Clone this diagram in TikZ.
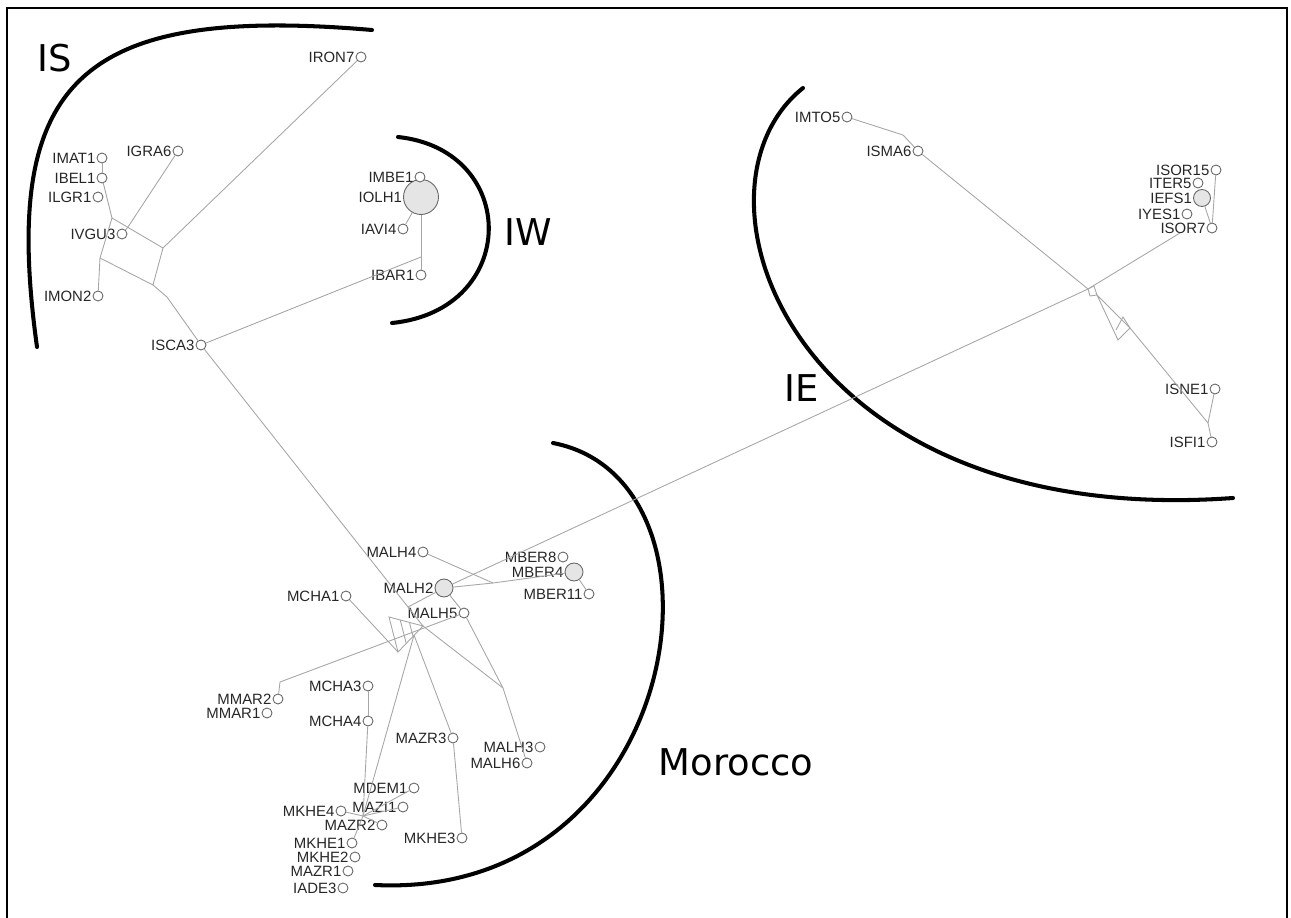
\documentclass[tikz,border=0pt]{standalone}
\usepackage{fontspec}
\setmainfont{Liberation Sans}
\newfontfamily\groupfont{DejaVu Sans}
\usetikzlibrary{positioning, calc}

\begin{document}
\begin{tikzpicture}[x=0.02cm, y=-0.02cm,
    hap/.style={circle, draw=black!60, fill=white, line width=0.5pt, minimum size=0.2cm, inner sep=0pt, label distance=1pt},
    bighap/.style={hap, fill=black!10},
    link/.style={draw=black!35, line width=0.5pt},
    group/.style={line width=2.3pt, line cap=round},
    grp/.style={font=\groupfont\fontsize{21}{21}\selectfont},
    every label/.style={font=\fontsize{8.5}{8.5}\selectfont, text=black!85, inner sep=0.5pt}]
    \useasboundingbox (0,0) rectangle (1291,918);
    % Frame (open at the bottom)
    \draw[line width=1.2pt] (7,918) -- (7,8) -- (1287,8) -- (1287,918);

    % Group arcs
    \draw[group] (37,347) .. controls (0,80) and (80,5) .. (372,30);
    \draw[group] (398,137) .. controls (520,150) and (520,310) .. (392,323);
    \draw[group] (803,88) .. controls (675,190) and (790,530) .. (1233,498);
    \draw[group] (553,443) .. controls (745,480) and (685,900) .. (375,885);

    % Group names
    \node[grp] (nIS) at (55,58) {IS};
    \node[grp] (nIW) at (528,232) {IW};
    \node[grp] (nIE) at (802,388) {IE};
    \node[grp] (nMor) at (736,762) {Morocco};

    % IS haplotypes
    \node[hap, label=left:IRON7] (IRON7) at (361,57) {};
    \node[hap, label=left:IGRA6] (IGRA6) at (178,151) {};
    \node[hap, label=left:IMAT1] (IMAT1) at (102,158) {};
    \node[hap, label=left:IBEL1] (IBEL1) at (102,178) {};
    \node[hap, label=left:ILGR1] (ILGR1) at (98,197) {};
    \node[hap, label=left:IVGU3] (IVGU3) at (122,234) {};
    \node[hap, label=left:IMON2] (IMON2) at (98,296) {};
    \node[hap, label=left:ISCA3] (ISCA3) at (201,345) {};

    % IW haplotypes
    \node[bighap, minimum size=0.7cm, label=left:IOLH1] (IOLH1) at (421,197) {};
    \node[hap, label=left:IMBE1] (IMBE1) at (420,177) {};
    \node[hap, label=left:IAVI4] (IAVI4) at (403,229) {};
    \node[hap, label=left:IBAR1] (IBAR1) at (421,275) {};

    % IE haplotypes
    \node[hap, label=left:IMTO5] (IMTO5) at (847,117) {};
    \node[hap, label=left:ISMA6] (ISMA6) at (918,151) {};
    \node[hap, label=left:ISOR15] (ISOR15) at (1216,170) {};
    \node[hap, label=left:ITER5] (ITER5) at (1198,183) {};
    \node[bighap, minimum size=0.34cm, label=left:IEFS1] (IEFS1) at (1202,198) {};
    \node[hap, label=left:IYES1] (IYES1) at (1187,214) {};
    \node[hap, label=left:ISOR7] (ISOR7) at (1212,228) {};
    \node[hap, label=left:ISNE1] (ISNE1) at (1215,389) {};
    \node[hap, label=left:ISFI1] (ISFI1) at (1212,442) {};

    % Morocco haplotypes
    \node[hap, label=left:MALH4] (MALH4) at (423,552) {};
    \node[hap, label=left:MBER8] (MBER8) at (563,557) {};
    \node[bighap, minimum size=0.36cm, label=left:MBER4] (MBER4) at (574,572) {};
    \node[hap, label=left:MBER11] (MBER11) at (589,594) {};
    \node[bighap, minimum size=0.36cm, label=left:MALH2] (MALH2) at (444,588) {};
    \node[hap, label=left:MCHA1] (MCHA1) at (346,596) {};
    \node[hap, label=left:MALH5] (MALH5) at (464,613) {};
    \node[hap, label=left:MCHA3] (MCHA3) at (368,686) {};
    \node[hap, label=left:MMAR2] (MMAR2) at (278,699) {};
    \node[hap, label=left:MMAR1] (MMAR1) at (267,713) {};
    \node[hap, label=left:MCHA4] (MCHA4) at (368,721) {};
    \node[hap, label=left:MAZR3] (MAZR3) at (453,738) {};
    \node[hap, label=left:MALH3] (MALH3) at (540,747) {};
    \node[hap, label=left:MALH6] (MALH6) at (527,763) {};
    \node[hap, label=left:MDEM1] (MDEM1) at (414,788) {};
    \node[hap, label=left:MKHE4] (MKHE4) at (341,811) {};
    \node[hap, label=left:MAZI1] (MAZI1) at (403,807) {};
    \node[hap, label=left:MAZR2] (MAZR2) at (382,825) {};
    \node[hap, label=left:MKHE3] (MKHE3) at (462,838) {};
    \node[hap, label=left:MKHE1] (MKHE1) at (352,843) {};
    \node[hap, label=left:MKHE2] (MKHE2) at (355,857) {};
    \node[hap, label=left:MAZR1] (MAZR1) at (348,871) {};
    \node[hap, label=left:IADE3] (IADE3) at (343,888) {};

    % Median vectors
    \coordinate (a1) at (112,218);
    \coordinate (a2) at (163,248);
    \coordinate (a3) at (153,285);
    \coordinate (a4) at (100,258);
    \coordinate (a5) at (167,297);
    \coordinate (a6) at (128,227);
    \coordinate (b1) at (421,257);
    \coordinate (e1) at (1180,233);
    \coordinate (f1) at (1088,289);
    \coordinate (f1a) at (1094,286);
    \coordinate (f1b) at (1090,296);
    \coordinate (f2) at (1097,295);
    \coordinate (f3) at (1118,340);
    \coordinate (f4) at (1130,328);
    \coordinate (f5) at (1116,330);
    \coordinate (f6) at (1123,317);
    \coordinate (g1) at (903,135);
    \coordinate (g2) at (1208,423);
    \coordinate (h1) at (493,583);
    \coordinate (t1) at (389,617);
    \coordinate (t2) at (423,626);
    \coordinate (t3) at (398,652);
    \coordinate (t4) at (408,607);
    \coordinate (t5) at (414,635);
    \coordinate (k1) at (503,688);
    \coordinate (m1) at (280,682);
    \coordinate (j1) at (363,816);

    % IS links
    \draw[link] (IMAT1) -- (IBEL1);
    \draw[link] (IBEL1) -- (a1);
    \draw[link] (a1) -- (a2) -- (a3) -- (a4) -- cycle;
    \draw[link] (a4) -- (IMON2);
    \draw[link] (IGRA6) -- (a6);
    \draw[link] (IVGU3) -- (a6);
    \draw[link] (a2) -- (IRON7);
    \draw[link] (a3) -- (a5) -- (ISCA3);
    \draw[link] (ISCA3) -- (b1);

    % IW links
    \draw[link] (b1) -- (IOLH1);
    \draw[link] (b1) -- (IBAR1);
    \draw[link] (IAVI4) -- (IOLH1);

    % IE links
    \draw[link] (IMTO5) -- (g1) -- (ISMA6);
    \draw[link] (ISMA6) -- (f1);
    \draw[link] (f1) -- (f1a) -- (f2) -- (f1b) -- cycle;
    \draw[link] (f2) -- (f3) -- (f4) -- cycle;
    \draw[link] (f5) -- (f6) -- (f4);
    \draw[link] (f4) -- (g2);
    \draw[link] (ISNE1) -- (g2) -- (ISFI1);
    \draw[link] (ISOR15) -- (ISOR7);
    \draw[link] (IEFS1) -- (ISOR7);
    \draw[link] (e1) -- (f1) -- (MALH2);

    % Morocco links
    \draw[link] (MALH4) -- (h1);
    \draw[link] (MBER4) -- (h1) -- (MALH2);
    \draw[link] (MBER4) -- (MBER11);
    \draw[link] (MALH2) -- (MALH5);
    \draw[link] (MALH2) -- (t4);
    \draw[link] (ISCA3) -- (t4);
    \draw[link] (t4) -- (t2);
    \draw[link] (t1) -- (t2) -- (t3) -- cycle;
    \draw[link] ($(t1)!0.33!(t2)$) -- ($(t3)!0.33!(t2)$);
    \draw[link] ($(t1)!0.6!(t2)$) -- ($(t3)!0.6!(t2)$);
    \draw[link] (MCHA1) -- (t3);
    \draw[link] (t5) -- (MAZR3);
    \draw[link] (MAZR3) -- (MKHE3);
    \draw[link] (t2) -- (k1);
    \draw[link] (MALH5) -- (k1) -- (MALH6);
    \draw[link] (MMAR2) -- (m1) -- (MALH5);
    \draw[link] (MCHA3) -- (MCHA4);
    \draw[link] (MCHA4) -- (j1);
    \draw[link] (t5) -- (j1);
    \draw[link] (j1) -- (MKHE1);
    \draw[link] (j1) -- (MDEM1);
    \draw[link] (j1) -- (MAZI1);
    \draw[link] (j1) -- (MAZR2);
    \draw[link] (j1) -- (MKHE4);
\end{tikzpicture}
\end{document}
